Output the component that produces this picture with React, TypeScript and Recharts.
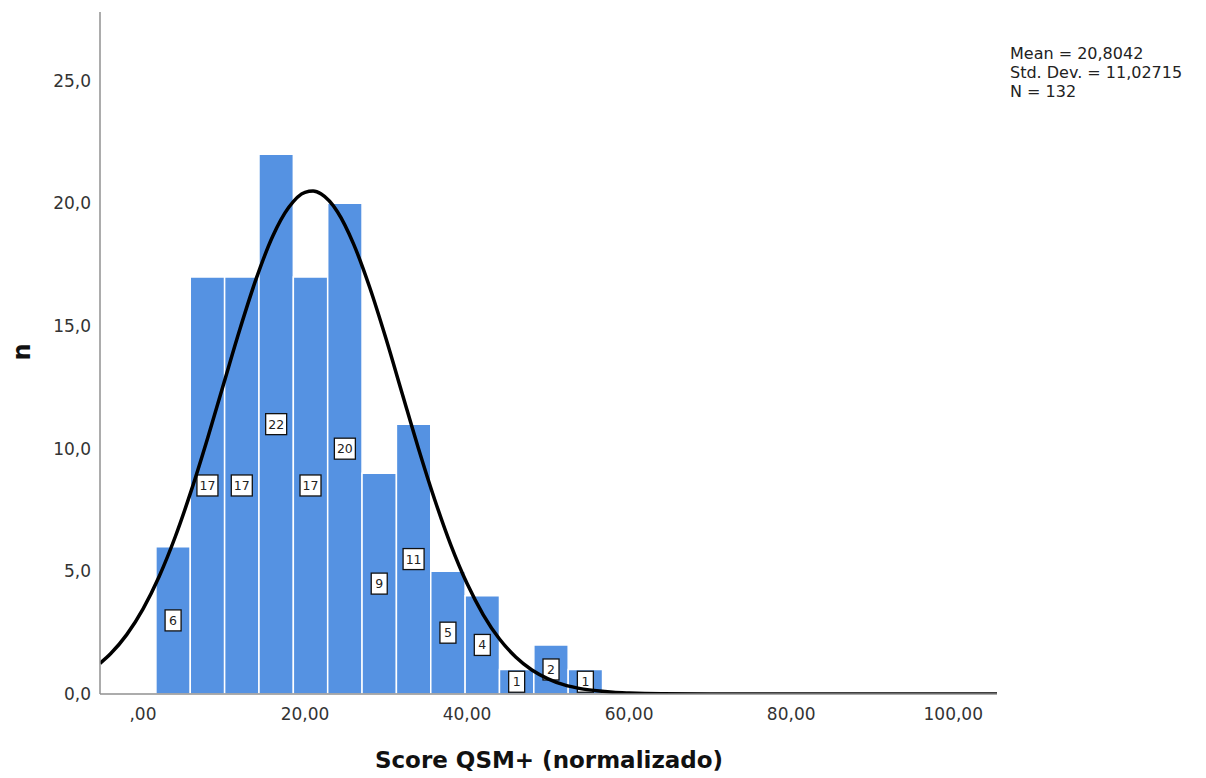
import React from "react";
import {
  ComposedChart,
  Line,
  XAxis,
  YAxis,
  ReferenceArea,
} from "recharts";

// Histogram bins (edges) and counts
const binEdges = [1.6, 5.84, 10.08, 14.32, 18.56, 22.8, 27.04, 31.28, 35.52, 39.76, 44.0, 48.24, 52.48, 56.72];
const counts = [6, 17, 17, 22, 17, 20, 9, 11, 5, 4, 1, 2, 1];

// Normal curve points
const curveX = [-5.3, -4, -2, 0, 2, 4, 6, 8, 10, 12, 14, 16, 18, 20, 21, 22, 24, 26, 28, 30, 32, 34, 36, 38, 40, 42, 44, 46, 48, 50, 52, 54, 56, 58, 60, 64, 70, 80, 90, 100, 105.4];
const curveY = [1.25, 1.64, 2.42, 3.46, 4.79, 6.42, 8.33, 10.45, 12.69, 14.91, 16.95, 18.65, 19.84, 20.45, 20.5, 20.38, 19.66, 18.34, 16.56, 14.48, 12.24, 10.01, 7.93, 6.07, 4.5, 3.23, 2.24, 1.51, 0.98, 0.62, 0.37, 0.22, 0.13, 0.07, 0.04, 0.01, 0, 0, 0, 0, 0];

const xTicks = [0, 20, 40, 60, 80, 100];
const yTicks = [0, 5, 10, 15, 20, 25];
const xTickLabels = [",00", "20,00", "40,00", "60,00", "80,00", "100,00"];
const yTickLabels = ["0,0", "5,0", "10,0", "15,0", "20,0", "25,0"];

const statsLines = ["Mean = 20,8042", "Std. Dev. = 11,02715", "N = 132"];
const xTitle = "Score QSM+ (normalizado)";
const yTitle = "n";

const curveData = curveX.map((x, i) => ({ x, y: curveY[i] }));

const FONT = "'DejaVu Sans', 'Open Sans', sans-serif";
const BAR_COLOR = "#5592e2";

const BoxLabel = (props: any) => {
  const { viewBox, value } = props;
  if (!viewBox) return null;
  const cx = viewBox.x + viewBox.width / 2;
  const cy = viewBox.y + viewBox.height / 2;
  const s = String(value);
  const w = s.length > 1 ? 21 : 16;
  const h = 21;
  return (
    <g>
      <rect x={cx - w / 2} y={cy - h / 2} width={w} height={h} fill="#ffffff" stroke="#111" strokeWidth={1.3} />
      <text x={cx} y={cy + 4.5} textAnchor="middle" fontSize={12.5} fontFamily={FONT} fill="#222">
        {s}
      </text>
    </g>
  );
};

export default function App() {
  return (
    <div style={{ position: "absolute", left: 0, top: 0, width: 1206, height: 778, background: "#fff" }}>
      <ComposedChart
        width={1206}
        height={778}
        data={curveData}
        margin={{ top: 12, right: 209, bottom: 54, left: 40 }}
      >
        <XAxis
          dataKey="x"
          type="number"
          domain={[-5.3, 105.4]}
          ticks={xTicks}
          allowDataOverflow
          height={30}
          tickLine={false}
          tickSize={0}
          tickMargin={14}
          axisLine={{ stroke: "#909090", strokeWidth: 1.5 }}
          tick={{ fontSize: 17, fill: "#333", fontFamily: FONT }}
          tickFormatter={(v: number) => xTickLabels[xTicks.indexOf(v)] ?? String(v)}
        />
        <YAxis
          type="number"
          domain={[0, 27.8]}
          ticks={yTicks}
          allowDataOverflow
          width={60}
          tickLine={false}
          tickSize={0}
          tickMargin={9}
          axisLine={{ stroke: "#909090", strokeWidth: 1.5 }}
          tick={{ fontSize: 17, fill: "#333", fontFamily: FONT }}
          tickFormatter={(v: number) => yTickLabels[yTicks.indexOf(v)] ?? String(v)}
        />
        {counts.map((c, i) => (
          <ReferenceArea
            key={i}
            x1={binEdges[i]}
            x2={binEdges[i + 1]}
            y1={0}
            y2={c}
            fill={BAR_COLOR}
            fillOpacity={1}
            stroke="#ffffff"
            strokeWidth={1.5}
            label={<BoxLabel value={c} />}
          />
        ))}
        <Line
          dataKey="y"
          type="monotone"
          stroke="#000"
          strokeWidth={3.5}
          dot={false}
          activeDot={false}
          isAnimationActive={false}
        />
      </ComposedChart>
      <div
        style={{
          position: "absolute",
          left: 1010,
          top: 44,
          fontFamily: FONT,
          fontSize: 16,
          lineHeight: "19px",
          color: "#222",
          whiteSpace: "nowrap",
        }}
      >
        {statsLines.map((s, i) => (
          <div key={i}>{s}</div>
        ))}
      </div>
      <div
        style={{
          position: "absolute",
          left: 0,
          width: 1098,
          top: 744,
          textAlign: "center",
          fontFamily: FONT,
          fontWeight: "bold",
          fontSize: 23,
          lineHeight: "32px",
          color: "#111",
          whiteSpace: "nowrap",
        }}
      >
        {xTitle}
      </div>
      <div
        style={{
          position: "absolute",
          left: 2,
          top: 336,
          width: 40,
          height: 32,
          textAlign: "center",
          fontFamily: FONT,
          fontWeight: "bold",
          fontSize: 24,
          lineHeight: "32px",
          color: "#111",
          transform: "rotate(-90deg)",
        }}
      >
        {yTitle}
      </div>
    </div>
  );
}
